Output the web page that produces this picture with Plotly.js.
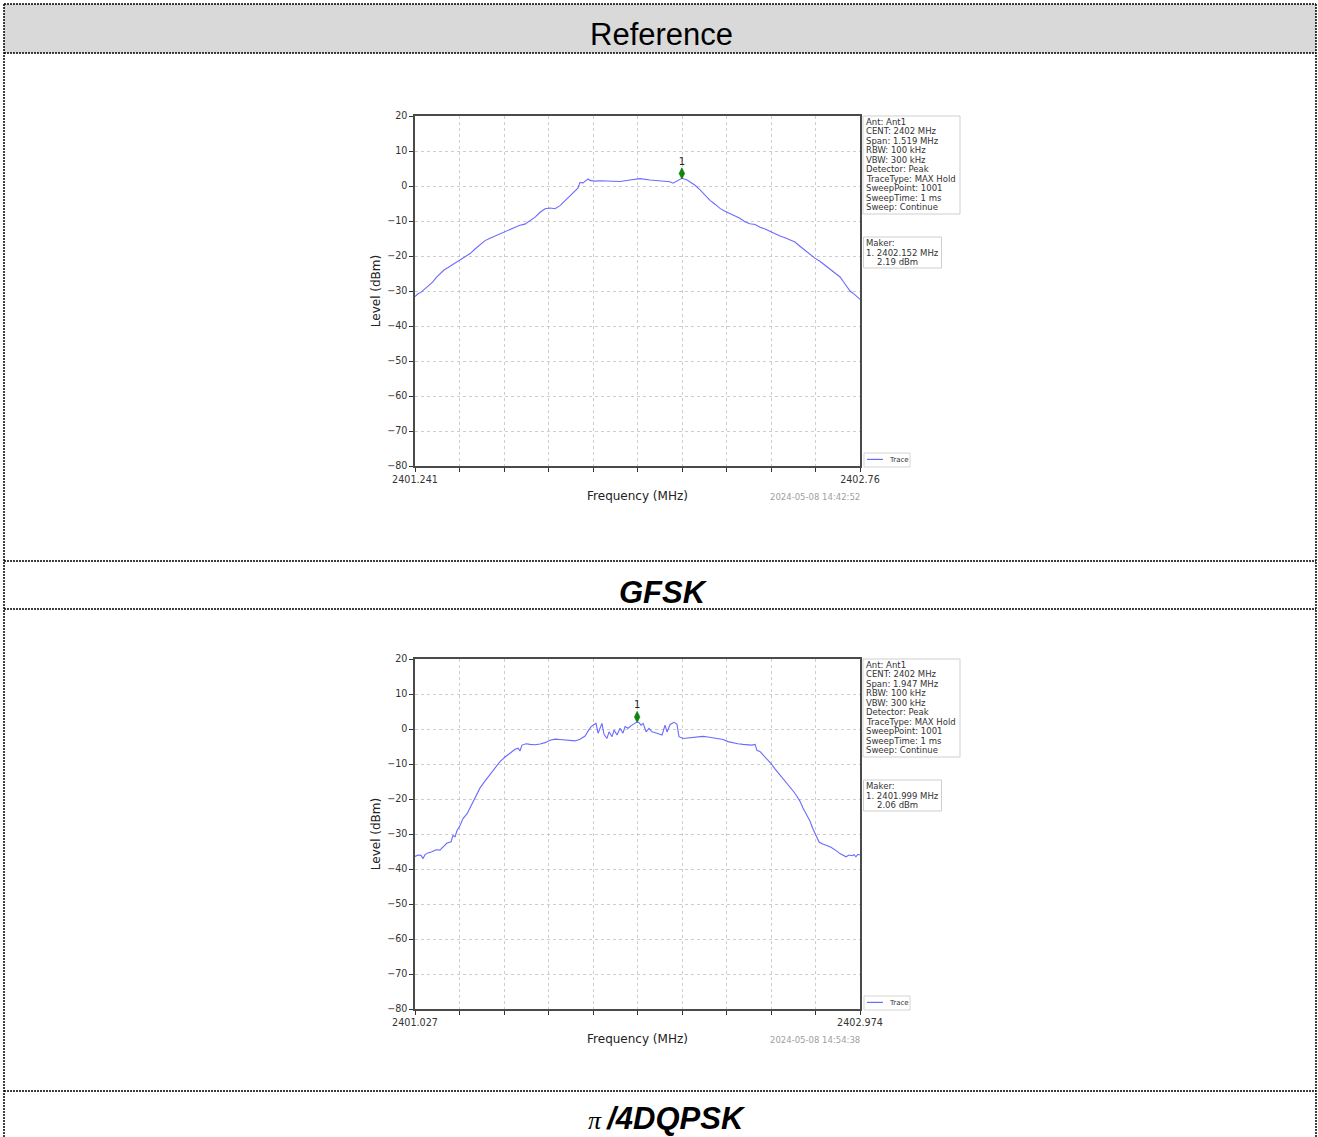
<!DOCTYPE html>
<html>
<head>
<meta charset="utf-8">
<script src="https://cdn.plot.ly/plotly-3.0.1.min.js"></script>
<style>
html, body { margin: 0; padding: 0; background: #ffffff; }
#chart { width: 1318px; height: 1137px; }
</style>
</head>
<body>
<div id="chart"></div>
<script>
// ---------------- DATA ----------------
const rowTitles = ["Reference", "GFSK", "π", "/4DQPSK"];

// GFSK spectrum (MHz, dBm)
const gfskFreq = [
  2401.241, 2401.251, 2401.261, 2401.272, 2401.282, 2401.292, 2401.302, 2401.313, 2401.326, 2401.340,
  2401.354, 2401.367, 2401.381, 2401.395, 2401.412, 2401.429, 2401.446, 2401.463, 2401.480, 2401.497,
  2401.514, 2401.531, 2401.548, 2401.565, 2401.582, 2401.599, 2401.616, 2401.634, 2401.651, 2401.668,
  2401.685, 2401.702, 2401.719, 2401.736, 2401.753, 2401.770, 2401.787, 2401.797, 2401.804, 2401.815,
  2401.825, 2401.832, 2401.838, 2401.855, 2401.873, 2401.907, 2401.941, 2401.975, 2402.009, 2402.043,
  2402.077, 2402.111, 2402.122, 2402.135, 2402.152, 2402.170, 2402.180, 2402.197, 2402.214, 2402.231,
  2402.248, 2402.265, 2402.282, 2402.299, 2402.316, 2402.333, 2402.350, 2402.367, 2402.384, 2402.402,
  2402.419, 2402.436, 2402.453, 2402.470, 2402.487, 2402.504, 2402.521, 2402.538, 2402.555, 2402.572,
  2402.589, 2402.606, 2402.623, 2402.640, 2402.657, 2402.674, 2402.692, 2402.709, 2402.726, 2402.743,
  2402.760
];
const gfskLevel = [
  -31.6, -30.8, -30.4, -29.6, -28.6, -28.0, -27.4, -26.2, -25.0, -24.0,
  -23.3, -22.6, -22.0, -21.3, -20.4, -19.3, -18.0, -16.7, -15.6, -14.9,
  -14.3, -13.6, -13.1, -12.5, -12.0, -11.2, -10.9, -9.8, -8.9, -7.5,
  -6.5, -6.3, -6.5, -5.6, -4.2, -2.6, -1.2, -0.6, 1.0, 0.9,
  1.6, 2.0, 1.6, 1.4, 1.5, 1.4, 1.3, 1.7, 2.1, 1.7,
  1.4, 1.2, 0.8, 1.5, 2.19, 1.7, 1.2, 0.2, -1.1, -2.6,
  -4.1, -5.2, -6.4, -7.2, -7.9, -8.6, -9.2, -10.2, -10.8, -11.0,
  -11.8, -12.3, -13.0, -13.8, -14.3, -14.8, -15.3, -16.0, -17.2, -18.4,
  -19.6, -20.6, -21.5, -22.6, -23.5, -24.6, -26.0, -28.0, -30.0, -31.1,
  -32.4
];

// pi/4 DQPSK spectrum (MHz, dBm)
const dqpskFreq = [
  2401.027, 2401.040, 2401.053, 2401.062, 2401.071, 2401.084, 2401.101, 2401.119, 2401.136, 2401.150,
  2401.167, 2401.185, 2401.193, 2401.202, 2401.211, 2401.224, 2401.237, 2401.255, 2401.268, 2401.281,
  2401.294, 2401.311, 2401.333, 2401.355, 2401.377, 2401.399, 2401.421, 2401.443, 2401.465, 2401.478,
  2401.486, 2401.495, 2401.513, 2401.530, 2401.552, 2401.574, 2401.596, 2401.618, 2401.640, 2401.661,
  2401.683, 2401.705, 2401.727, 2401.749, 2401.771, 2401.784, 2401.797, 2401.810, 2401.819, 2401.828,
  2401.836, 2401.845, 2401.854, 2401.867, 2401.876, 2401.889, 2401.898, 2401.911, 2401.924, 2401.937,
  2401.946, 2401.959, 2401.976, 2401.990, 2401.999, 2402.007, 2402.016, 2402.025, 2402.038, 2402.051,
  2402.064, 2402.086, 2402.108, 2402.121, 2402.130, 2402.143, 2402.151, 2402.160, 2402.173, 2402.182,
  2402.200, 2402.221, 2402.243, 2402.265, 2402.287, 2402.309, 2402.331, 2402.353, 2402.375, 2402.396,
  2402.418, 2402.440, 2402.462, 2402.484, 2402.501, 2402.515, 2402.523, 2402.536, 2402.550, 2402.567,
  2402.585, 2402.602, 2402.624, 2402.646, 2402.668, 2402.685, 2402.698, 2402.711, 2402.724, 2402.742,
  2402.755, 2402.768, 2402.781, 2402.795, 2402.808, 2402.821, 2402.834, 2402.847, 2402.860, 2402.873,
  2402.886, 2402.900, 2402.913, 2402.926, 2402.939, 2402.948, 2402.956, 2402.965, 2402.974
];
const dqpskLevel = [
  -36.4, -36.0, -36.1, -37.0, -35.9, -35.4, -35.1, -34.5, -34.6, -33.8,
  -32.6, -32.2, -30.4, -30.8, -29.0, -27.6, -25.6, -24.2, -22.4, -20.8,
  -19.0, -16.9, -14.9, -13.1, -11.2, -9.3, -8.0, -6.9, -5.8, -5.5,
  -6.3, -4.6, -4.2, -4.4, -4.5, -4.3, -3.9, -3.2, -2.9, -3.0,
  -3.1, -3.3, -3.4, -2.9, -2.0, -0.6, 0.6, 1.3, 1.6, -1.2,
  0.2, 1.6, -1.5, -2.7, -0.8, -2.2, -0.3, -1.7, 0.2, -1.2,
  0.7, 0.2, 1.1, 1.6, 2.06, 1.8, 1.1, 1.6, -0.8, 0.2,
  -0.8, -1.2, -1.7, 1.1, -0.9, 1.3, 1.6, 1.9, 1.4, -2.2,
  -2.7, -2.6, -2.4, -2.4, -2.1, -2.3, -2.5, -2.7, -3.0, -3.6,
  -4.0, -4.2, -4.4, -4.5, -4.6, -4.4, -6.1, -6.4, -7.4, -8.5,
  -9.9, -11.4, -13.1, -14.7, -16.4, -18.0, -19.2, -20.6, -22.5, -24.6,
  -26.3, -28.5, -30.2, -32.3, -32.8, -33.0, -33.4, -33.8, -34.3, -34.9,
  -35.6, -36.1, -36.5, -36.0, -36.2, -35.9, -36.5, -35.8, -36.0
];

const gfskRange = [2401.241, 2402.76];
const dqpskRange = [2401.027, 2402.974];
const gfskXTickText = ["2401.241", "", "", "", "", "", "", "", "", "", "2402.76"];
const dqpskXTickText = ["2401.027", "", "", "", "", "", "", "", "", "", "2402.974"];
const levelTicks = [-80, -70, -60, -50, -40, -30, -20, -10, 0, 10, 20];

const gfskMarkerFreq = [2402.152];
const gfskMarkerLevel = [2.19];
const dqpskMarkerFreq = [2401.999];
const dqpskMarkerLevel = [2.06];

const gfskInfo = ["Ant: Ant1", "CENT: 2402 MHz", "Span: 1.519 MHz", "RBW: 100 kHz", "VBW: 300 kHz",
  "Detector: Peak", "TraceType: MAX Hold", "SweepPoint: 1001", "SweepTime: 1 ms", "Sweep: Continue"];
const dqpskInfo = ["Ant: Ant1", "CENT: 2402 MHz", "Span: 1.947 MHz", "RBW: 100 kHz", "VBW: 300 kHz",
  "Detector: Peak", "TraceType: MAX Hold", "SweepPoint: 1001", "SweepTime: 1 ms", "Sweep: Continue"];
const gfskMaker = ["Maker:", "1. 2402.152 MHz", "2.19 dBm"];
const dqpskMaker = ["Maker:", "1. 2401.999 MHz", "2.06 dBm"];
const gfskStamp = "2024-05-08 14:42:52";
const dqpskStamp = "2024-05-08 14:54:38";
const legendLabel = "Trace";
const xTitle = "Frequency (MHz)";
const yTitle = "Level (dBm)";

// ---------------- LAYOUT HELPERS ----------------
const W = 1318, H = 1137;
const px = x => x / W;
const py = y => 1 - y / H;
const FONT = "DejaVu Sans";
const traceColor = "rgba(80,80,255,0.85)";
const markerLift = 1.4;

const data = [];
const annotations = [];
const shapes = [];
const layout = {
  width: W, height: H,
  margin: { l: 0, r: 0, t: 0, b: 0 },
  paper_bgcolor: "#ffffff", plot_bgcolor: "#ffffff",
  showlegend: false,
  annotations: annotations, shapes: shapes
};

function tickPositions(range) {
  const out = [];
  for (let i = 0; i <= 10; i++) out.push(range[0] + i * (range[1] - range[0]) / 10);
  return out;
}

function panel(n, top, freq, level, range, tickText, mFreq, mLevel, info, maker, stamp) {
  const xa = n === 1 ? "x" : "x2";
  const ya = n === 1 ? "y" : "y2";
  const xKey = n === 1 ? "xaxis" : "xaxis2";
  const yKey = n === 1 ? "yaxis" : "yaxis2";
  const common = {
    ticks: "outside", ticklen: 4, tickwidth: 1, tickcolor: "#333",
    showline: true, mirror: true, linecolor: "#4a4a4a", linewidth: 1.6,
    showgrid: true, gridcolor: "#c0c0c0", gridwidth: 0.8, griddash: "dot",
    zeroline: false,
    tickfont: { family: FONT, size: 9.6, color: "#333" }
  };
  layout[xKey] = Object.assign({}, common, {
    domain: [px(415), px(860)], anchor: ya,
    range: range, tickmode: "array", tickvals: tickPositions(range), ticktext: tickText,
    title: { text: xTitle, font: { family: FONT, size: 12, color: "#222" }, standoff: 7 }
  });
  layout[yKey] = Object.assign({}, common, {
    domain: [py(top + 350), py(top)], anchor: xa,
    range: [-80, 20], tickmode: "array", tickvals: levelTicks,
    title: { text: yTitle, font: { family: FONT, size: 12, color: "#222" }, standoff: 4 }
  });
  data.push({
    type: "scatter", mode: "lines", x: freq, y: level, xaxis: xa, yaxis: ya,
    line: { color: traceColor, width: 1.1 }, name: legendLabel, hoverinfo: "skip"
  });
  data.push({
    type: "scatter", mode: "markers+text", x: mFreq, y: mLevel.map(v => v + markerLift),
    xaxis: xa, yaxis: ya, text: ["1"], textposition: "top center",
    textfont: { family: FONT, size: 10, color: "#222" },
    marker: { symbol: "diamond-tall", size: 8, color: "#0a8a0a", line: { color: "#006400", width: 0.5 } },
    hoverinfo: "skip"
  });
  // info box
  shapes.push({ type: "rect", xref: "paper", yref: "paper", x0: px(863), x1: px(960), y0: py(top), y1: py(top + 98),
    line: { color: "#cfcfcf", width: 1 }, fillcolor: "rgba(255,255,255,0.9)" });
  info.forEach((t, i) => annotations.push({
    xref: "paper", yref: "paper", x: px(863.5), y: py(top + 6 + i * 9.48), xanchor: "left", yanchor: "middle",
    text: t, showarrow: false, font: { family: FONT, size: 8.5, color: "#333" }
  }));
  // maker box
  shapes.push({ type: "rect", xref: "paper", yref: "paper", x0: px(863.5), x1: px(941.5), y0: py(top + 121), y1: py(top + 152),
    line: { color: "#cfcfcf", width: 1 }, fillcolor: "rgba(255,255,255,0.9)" });
  const makerX = [864, 864, 874.5];
  maker.forEach((t, i) => annotations.push({
    xref: "paper", yref: "paper", x: px(makerX[i]), y: py(top + 127.3 + i * 9.5), xanchor: "left", yanchor: "middle",
    text: t, showarrow: false, font: { family: FONT, size: 8.5, color: "#333" }
  }));
  // legend box
  shapes.push({ type: "rect", xref: "paper", yref: "paper", x0: px(864), x1: px(910), y0: py(top + 337), y1: py(top + 351),
    line: { color: "#d5d5d5", width: 1 }, fillcolor: "rgba(255,255,255,0.9)" });
  shapes.push({ type: "line", xref: "paper", yref: "paper", x0: px(867), x1: px(883), y0: py(top + 343.4), y1: py(top + 343.4),
    line: { color: traceColor, width: 1.2 } });
  annotations.push({ xref: "paper", yref: "paper", x: px(886.5), y: py(top + 343.5), xanchor: "left", yanchor: "middle",
    text: legendLabel, showarrow: false, font: { family: FONT, size: 7, color: "#333" } });
  // timestamp
  annotations.push({ xref: "paper", yref: "paper", x: px(862), y: py(top + 381.3), xanchor: "right", yanchor: "middle",
    text: stamp, showarrow: false, font: { family: FONT, size: 8.5, color: "#a0a0a0" } });
}

panel(1, 116, gfskFreq, gfskLevel, gfskRange, gfskXTickText, gfskMarkerFreq, gfskMarkerLevel, gfskInfo, gfskMaker, gfskStamp);
panel(2, 659, dqpskFreq, dqpskLevel, dqpskRange, dqpskXTickText, dqpskMarkerFreq, dqpskMarkerLevel, dqpskInfo, dqpskMaker, dqpskStamp);

// ---------------- TABLE FRAME ----------------
shapes.push({ type: "rect", xref: "paper", yref: "paper", x0: px(4), x1: px(1316), y0: py(4), y1: py(53),
  line: { width: 0 }, fillcolor: "#d9d9d9", layer: "below" });
const border = { color: "#000000", width: 1.5, dash: "2px,1px" };
[4, 53, 561, 609, 1091].forEach(y => shapes.push({ type: "line", xref: "paper", yref: "paper",
  x0: px(4), x1: px(1316), y0: py(y), y1: py(y), line: border }));
[4, 1316].forEach(x => shapes.push({ type: "line", xref: "paper", yref: "paper",
  x0: px(x), x1: px(x), y0: py(4), y1: py(1137), line: border }));

annotations.push({ xref: "paper", yref: "paper", x: px(661), y: py(35), xanchor: "center", yanchor: "middle",
  text: rowTitles[0], showarrow: false, font: { family: "Liberation Sans", size: 31, color: "#000" } });
annotations.push({ xref: "paper", yref: "paper", x: px(663), y: py(592), xanchor: "center", yanchor: "middle",
  text: "<b><i>" + rowTitles[1] + "</i></b>", showarrow: false, font: { family: "Liberation Sans", size: 31, color: "#000" } });
annotations.push({ xref: "paper", yref: "paper", x: px(667), y: py(1118), xanchor: "center", yanchor: "middle",
  text: "<i><span style=\"font-family:'Liberation Serif';font-size:26px\">" + rowTitles[2] + "</span>\u2009<b>" + rowTitles[3] + "</b></i>",
  showarrow: false, font: { family: "Liberation Sans", size: 31, color: "#000" } });

Plotly.newPlot("chart", data, layout, { staticPlot: true, displayModeBar: false });
</script>
</body>
</html>
